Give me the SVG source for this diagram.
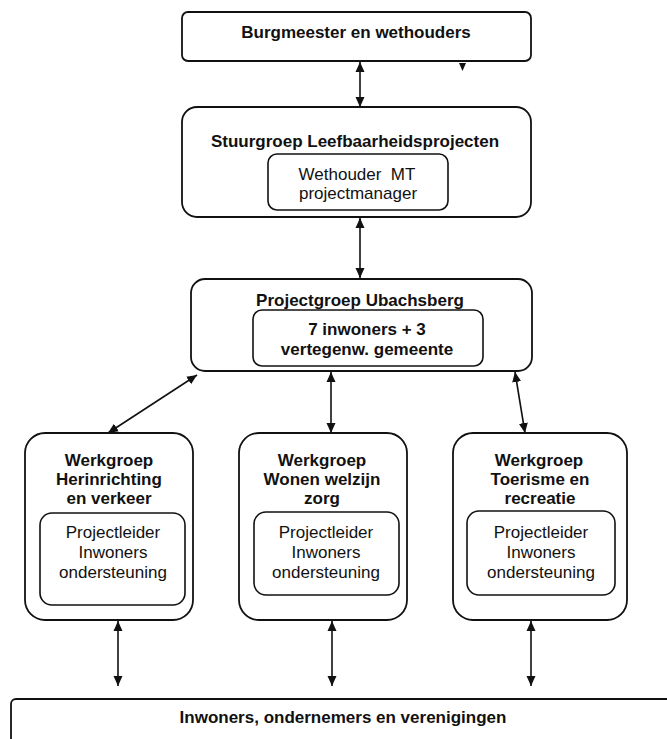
<svg xmlns="http://www.w3.org/2000/svg" width="667" height="739" viewBox="0 0 667 739">
<style>
.box{fill:#fff;stroke:#111;stroke-width:1.8}
.in{fill:none;stroke:#111;stroke-width:1.6}
.b{font-family:"Liberation Sans",Arial,sans-serif;font-weight:bold;font-size:17px;fill:#111;text-anchor:middle}
.n{font-family:"Liberation Sans",Arial,sans-serif;font-size:17px;fill:#111;text-anchor:middle}
.c{stroke:#111;stroke-width:1.6;fill:none;marker-start:url(#ah);marker-end:url(#ah)}
</style>
<defs>
<marker id="ah" viewBox="0 0 10 10" refX="10" refY="5" markerWidth="10" markerHeight="10" markerUnits="userSpaceOnUse" orient="auto-start-reverse">
<path d="M0,0.5 L10,5 L0,9.5 Z" fill="#111"/>
</marker>
</defs>
<rect width="667" height="739" fill="#fff"/>
<g id="connectors">
<line class="c" x1="360" y1="62" x2="360" y2="107"/>
<line class="c" x1="360" y1="218" x2="360" y2="278"/>
<line class="c" x1="197" y1="375" x2="108" y2="433"/>
<line class="c" x1="331" y1="372" x2="331" y2="433"/>
<line class="c" x1="515" y1="372" x2="525" y2="433"/>
<line class="c" x1="118" y1="621" x2="118" y2="686"/>
<line class="c" x1="332" y1="621" x2="332" y2="686"/>
<line class="c" x1="531" y1="621" x2="531" y2="686"/>
<path d="M459,63 L466,63 L462.5,71 Z" fill="#111"/>
</g>
<g id="burgmeester">
<rect class="box" x="182" y="12" width="349" height="49" rx="6"/>
<text class="b" x="356" y="38">Burgmeester en wethouders</text>
</g>
<g id="stuurgroep">
<rect class="box" x="182" y="107" width="349" height="110" rx="15"/>
<text class="b" x="355" y="147">Stuurgroep Leefbaarheidsprojecten</text>
<rect class="in" x="268" y="154" width="180" height="56" rx="9"/>
<text class="n" x="357" y="180">Wethouder&#160; MT</text>
<text class="n" x="358" y="199">projectmanager</text>
</g>
<g id="projectgroep">
<rect class="box" x="191" y="279" width="341" height="92" rx="14"/>
<text class="b" x="360" y="306">Projectgroep Ubachsberg</text>
<rect class="in" x="253" y="310" width="230" height="56" rx="9"/>
<text class="b" x="367" y="335">7 inwoners + 3</text>
<text class="b" x="367" y="355">vertegenw. gemeente</text>
</g>
<g id="werkgroep-herinrichting">
<rect class="box" x="25" y="433" width="168" height="187" rx="20"/>
<text class="b" x="109" y="466">Werkgroep</text>
<text class="b" x="109" y="485">Herinrichting</text>
<text class="b" x="109" y="504">en verkeer</text>
<rect class="in" x="40" y="513" width="145" height="92" rx="12"/>
<text class="n" x="113" y="538">Projectleider</text>
<text class="n" x="113" y="558">Inwoners</text>
<text class="n" x="113" y="578">ondersteuning</text>
</g>
<g id="werkgroep-wonen">
<rect class="box" x="239" y="433" width="168" height="187" rx="20"/>
<text class="b" x="322" y="466">Werkgroep</text>
<text class="b" x="322" y="485">Wonen welzijn</text>
<text class="b" x="322" y="504">zorg</text>
<rect class="in" x="254" y="512" width="145" height="83" rx="12"/>
<text class="n" x="326" y="538">Projectleider</text>
<text class="n" x="326" y="558">Inwoners</text>
<text class="n" x="326" y="578">ondersteuning</text>
</g>
<g id="werkgroep-toerisme">
<rect class="box" x="453" y="433" width="174" height="187" rx="20"/>
<text class="b" x="539" y="466">Werkgroep</text>
<text class="b" x="540" y="485">Toerisme en</text>
<text class="b" x="540" y="504">recreatie</text>
<rect class="in" x="467" y="511" width="148" height="84" rx="12"/>
<text class="n" x="541" y="538">Projectleider</text>
<text class="n" x="541" y="558">Inwoners</text>
<text class="n" x="541" y="578">ondersteuning</text>
</g>
<g id="inwoners">
<rect class="box" x="11" y="699" width="700" height="60" rx="5"/>
<text class="b" x="343" y="723">Inwoners, ondernemers en verenigingen</text>
</g>
</svg>
